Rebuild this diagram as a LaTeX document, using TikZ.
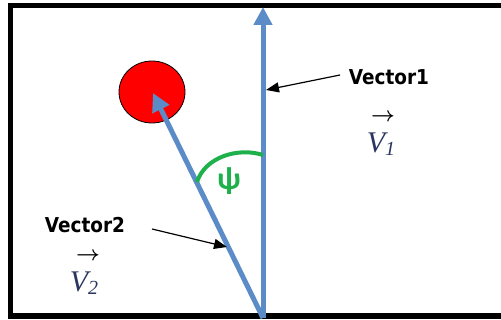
\documentclass[tikz,border=0pt]{standalone}
\usepackage{fontspec}
\setmainfont{Liberation Serif}
\newfontfamily\labfont{DejaVu Sans Condensed}
\newfontfamily\psifont{Carlito}
\usetikzlibrary{arrows.meta,shapes.geometric}
\definecolor{vblue}{HTML}{5B8CC8}
\definecolor{agreen}{HTML}{1DB04B}
\definecolor{vtext}{HTML}{2A3560}
\newcommand{\vsub}[1]{\raisebox{-3pt}{\fontsize{20}{20}\selectfont #1}}
\begin{document}
\begin{tikzpicture}[x=1pt,y=-1pt,
  vec/.style={draw=vblue, line width=5pt, -{Triangle[length=18pt,width=18pt]}},
  ann/.style={draw=black, line width=1.2pt, -{Triangle[length=13pt,width=10pt]}},
  lab/.style={font=\labfont\bfseries\fontsize{20.5}{22}\selectfont, inner sep=0pt},
  vlab/.style={font=\itshape\fontsize{30}{30}\selectfont, text=vtext, inner sep=0pt},
  varrow/.style={font=\boldmath\fontsize{22}{22}\selectfont, text=black, inner sep=0pt}]
\useasboundingbox (0,0) rectangle (501,320);
% frame (open on the right, as cut by the picture edge)
\draw[line width=5.5pt] (600,5.5) -- (10.5,5.5) -- (10.5,316) -- (600,316);
% target ball
\node[ellipse, draw=black, line width=0.8pt, fill=red, minimum width=66pt, minimum height=62pt, inner sep=0pt] (ball) at (152,92) {};
% vectors
\coordinate (O) at (263,318);
\coordinate (T1) at (263,7);
\coordinate (T2) at (153,93);
\draw[vec] (O) -- (T1);
\draw[vec] (O) -- (T2);
% angle arc
\coordinate (A1) at (263,155);
\coordinate (A2) at (197,182);
\draw[agreen, line width=4pt] (A1) .. controls (238,147) and (205,157) .. (A2);
\node[text=agreen, font=\psifont\bfseries\fontsize{32}{32}\selectfont, inner sep=0pt] (psi) at (229,181) {ψ};
% labels
\node[lab] (v1lab) at (389,77) {Vector1};
\node[lab] (v2lab) at (85,225) {Vector2};
\coordinate (s1) at (340,75);
\coordinate (e1) at (266,90);
\coordinate (s2) at (152,229);
\coordinate (e2) at (227,247);
\draw[ann] (s1) -- (e1);
\draw[ann] (s2) -- (e2);
% vector symbols
\node[varrow] (ar1) at (383,117) {$\rightarrow$};
\node[vlab] (V1) at (381,144) {V\vsub{1}};
\node[varrow] (ar2) at (88,256) {$\rightarrow$};
\node[vlab] (V2) at (84,283) {V\vsub{2}};
\end{tikzpicture}
\end{document}
